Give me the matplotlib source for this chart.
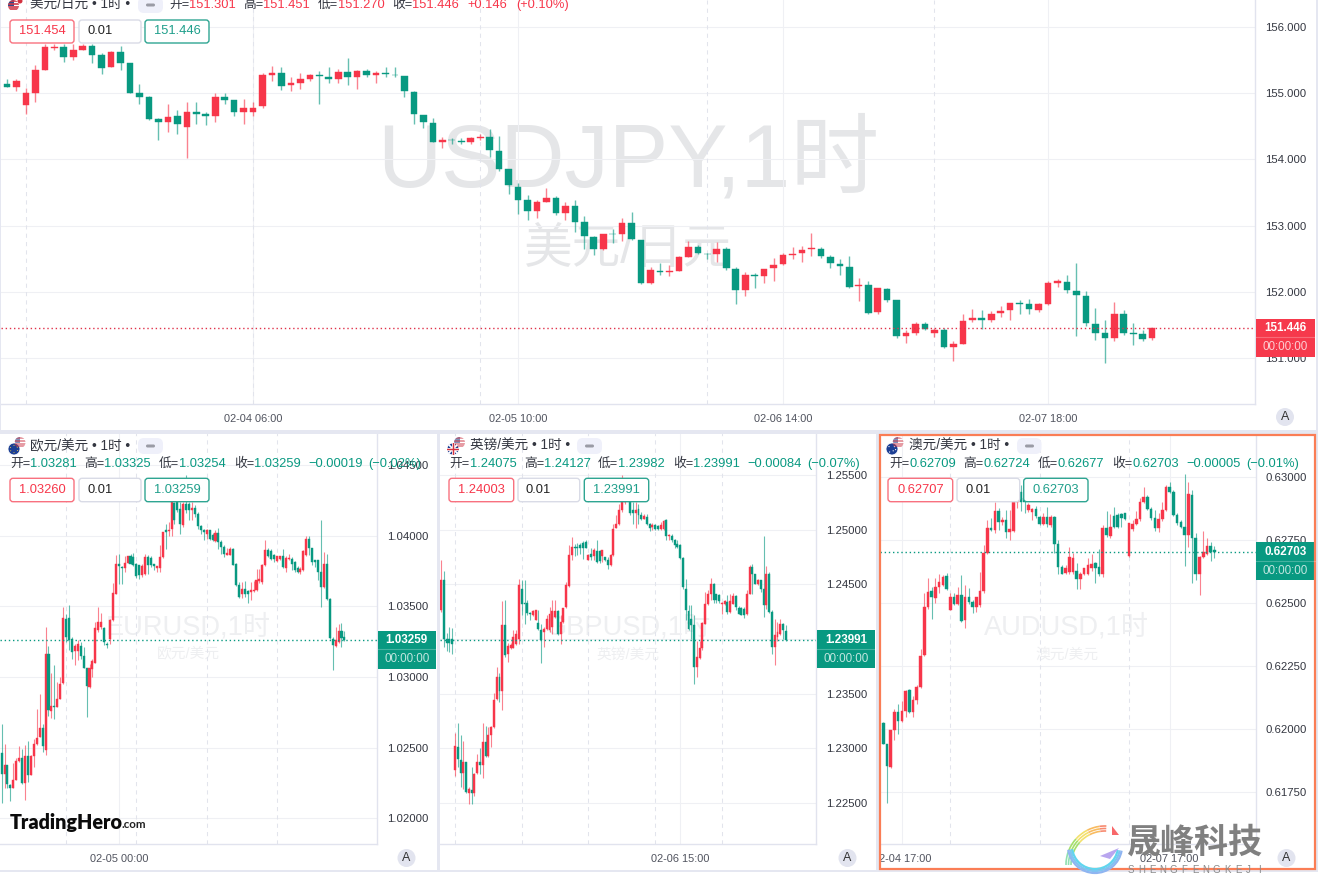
import numpy as np
import matplotlib
matplotlib.use('Agg')
import matplotlib.pyplot as plt
from matplotlib.patches import Rectangle, FancyBboxPatch, Circle, Arc, Polygon

plt.rcParams['font.family'] = ['Liberation Sans', 'Noto Sans CJK SC', 'DejaVu Sans']

W, H = 1318, 875
RED = '#f7364a'
GREEN = '#089981'
DARK = '#333640'

# ---- USD/JPY
jpy_open = [155.14,155.10,154.82,155.00,155.35,155.69,155.70,155.54,155.65,155.71,155.57,155.39,155.62,155.45,155.00,154.94,154.61,154.57,154.65,154.49,154.72,154.68,154.66,154.95,154.89,154.71,154.71,154.80,155.28,155.31,155.12,155.15,155.21,155.28,155.24,155.22,155.32,155.25,155.34,155.27,155.31,155.28,155.26,155.02,154.67,154.55,
    154.27,154.30,154.28,154.26,154.32,154.34,154.13,153.85,153.59,153.39,153.22,153.36,153.42,153.19,153.30,153.05,152.83,152.64,152.88,152.87,153.04,152.78,152.14,152.32,152.30,152.32,152.53,152.68,152.575,152.57,152.64,152.35,152.02,152.26,152.24,152.36,152.42,152.56,152.58,152.65,152.65,152.53,152.42,
    152.38,152.09,152.11,151.69,152.04,151.87,151.33,151.38,151.52,151.38,151.43,151.17,151.21,151.57,151.60,151.58,151.68,151.72,151.83,151.82,151.73,151.81,152.14,152.15,152.01,151.94,151.52,151.38,151.30,151.66,151.38,151.37,151.301]
jpy_high = [155.21,155.21,155.08,155.43,155.75,155.75,155.75,155.75,155.75,155.75,155.61,155.64,155.71,155.46,155.14,154.96,154.62,154.83,154.74,154.86,154.86,154.72,155.01,155.00,154.90,154.92,154.86,155.30,155.41,155.40,155.25,155.30,155.29,155.33,155.40,155.36,155.53,155.35,155.36,155.33,155.40,155.39,155.26,155.03,154.67,154.62,
    154.34,154.33,154.32,154.34,154.38,154.46,154.36,153.85,153.64,153.46,153.39,153.57,153.45,153.36,153.39,153.14,152.84,152.88,152.95,153.11,153.21,152.78,152.38,152.44,152.41,152.54,152.77,152.71,152.58,152.75,152.68,152.37,152.30,152.29,152.35,152.51,152.59,152.67,152.69,152.89,152.68,152.55,152.49,
    152.54,152.21,152.16,152.05,152.06,151.88,151.42,151.54,151.54,151.46,151.46,151.26,151.66,151.74,151.73,151.71,151.79,151.83,151.88,151.89,151.83,152.17,152.19,152.25,152.43,152.01,151.76,151.57,151.85,151.73,151.53,151.42,151.451]
jpy_low = [155.09,155.03,154.69,154.87,155.35,155.65,155.47,155.50,155.65,155.46,155.29,155.39,155.35,155.00,154.83,154.60,154.29,154.41,154.38,154.02,154.54,154.52,154.57,154.83,154.65,154.54,154.65,154.77,155.19,155.05,155.04,155.07,155.19,154.83,155.16,155.16,155.13,155.07,155.24,155.15,155.24,155.25,154.95,154.53,154.47,154.26,
    154.17,154.23,154.23,154.23,154.29,154.03,153.82,153.47,153.17,153.09,153.11,153.36,153.16,153.08,152.91,152.64,152.55,152.63,152.74,152.76,152.78,152.12,152.12,152.25,152.24,152.31,152.52,152.57,152.49,152.45,152.33,151.81,151.93,152.05,152.13,152.16,152.41,152.49,152.45,152.54,152.51,152.36,152.26,
    152.06,151.86,151.66,151.66,151.84,151.30,151.23,151.35,151.43,151.31,151.15,150.95,151.21,151.54,151.44,151.54,151.62,151.58,151.66,151.66,151.69,151.80,152.07,151.98,151.33,151.48,151.27,150.92,151.25,151.34,151.19,151.25,151.27]
jpy_close = [155.10,155.19,155.00,155.35,155.70,155.70,155.54,155.65,155.71,155.58,155.38,155.62,155.46,155.00,154.94,154.61,154.57,154.64,154.53,154.72,154.69,154.66,154.95,154.90,154.71,154.77,154.78,155.27,155.31,155.11,155.16,155.21,155.28,155.26,155.22,155.32,155.25,155.34,155.28,155.31,155.29,155.27,155.03,154.68,154.57,154.27,
    154.30,154.29,154.26,154.33,154.34,154.14,153.85,153.61,153.39,153.22,153.36,153.42,153.19,153.30,153.06,152.85,152.65,152.87,152.87,153.04,152.80,152.13,152.33,152.30,152.31,152.52,152.68,152.59,152.565,152.64,152.36,152.02,152.25,152.24,152.35,152.41,152.56,152.57,152.63,152.66,152.54,152.43,152.39,
    152.07,152.11,151.68,152.05,151.87,151.33,151.38,151.52,151.44,151.43,151.17,151.21,151.56,151.60,151.58,151.67,151.71,151.83,151.82,151.74,151.82,152.13,152.16,152.02,151.95,151.53,151.38,151.30,151.66,151.38,151.37,151.29,151.446]

# ---- EUR/USD
eur_open = [1.02464,1.02316,1.02375,1.02233,1.02212,1.02268,1.02403,1.02429,1.0225,1.02438,1.02308,1.02441,1.02523,1.02575,1.02639,1.02481,1.0316,1.02759,1.02792,1.02788,1.02847,1.02958,1.0341,1.0342,1.03265,1.03182,1.03182,1.03219,1.03149,1.03064,1.02929,1.03059,1.03099,1.0333,1.03353,1.03349,1.03236,1.03271,1.03401,1.03589,1.03802,1.0378,1.03773,1.03809,1.03854,1.03849,1.03802,1.0379,1.03719,1.03731,1.03849,1.03842,1.03797,1.03773,1.03773,1.03849,1.04038,1.04031,1.0405,1.04231,1.04235,1.04191,1.04073,1.04222,1.04222,1.04179,1.04198,1.04156,1.04066,1.04042,1.04014,1.04038,1.04002,1.0396,1.04019,1.03955,1.0392,1.03863,1.03863,1.03908,1.03802,1.03653,1.03589,1.03625,1.03608,1.03604,1.03606,1.03613,1.0368,1.0367,1.03795,1.03896,1.03891,1.03861,1.0382,1.03837,1.03854,1.03773,1.03835,1.03837,1.03814,1.03771,1.03743,1.03757,1.03861,1.03979,1.03915,1.0383,1.03825,1.03743,1.03637,1.03797,1.03549,1.03271,1.03217,1.03247,1.03323,1.03281]
eur_high = [1.0267,1.02523,1.02379,1.0224,1.02391,1.02429,1.02514,1.02493,1.02516,1.02545,1.02445,1.02563,1.02776,1.02877,1.0267,1.03354,1.03217,1.03024,1.03083,1.02965,1.03,1.03496,1.03448,1.03507,1.0328,1.03236,1.0326,1.03248,1.03212,1.03066,1.03094,1.0313,1.03389,1.03495,1.03452,1.03353,1.03247,1.03412,1.03665,1.03861,1.03873,1.03783,1.03854,1.03858,1.03868,1.03877,1.03809,1.03795,1.03802,1.03868,1.03861,1.03854,1.03802,1.03788,1.03932,1.04026,1.04085,1.04097,1.0435,1.04238,1.0424,1.04238,1.04238,1.04432,1.0424,1.04238,1.04215,1.04168,1.04073,1.0405,1.0405,1.04038,1.04019,1.04042,1.04054,1.03967,1.03932,1.03915,1.0392,1.03915,1.03806,1.03672,1.03672,1.03677,1.03613,1.03672,1.03677,1.03766,1.03766,1.03802,1.03967,1.03915,1.03908,1.03873,1.03854,1.03855,1.03908,1.03854,1.03868,1.03849,1.0382,1.03783,1.03778,1.03896,1.04,1.03995,1.03915,1.0383,1.03825,1.04109,1.03884,1.03868,1.03556,1.03283,1.03353,1.03377,1.03384,1.03325]
eur_low = [1.02108,1.02216,1.0221,1.02122,1.0221,1.02268,1.02401,1.02245,1.02132,1.02257,1.02304,1.02363,1.02519,1.02575,1.02469,1.02445,1.02722,1.02712,1.027,1.02788,1.0284,1.02953,1.0325,1.0319,1.0313,1.03083,1.0312,1.0313,1.0306,1.02717,1.02922,1.03,1.03095,1.0332,1.0334,1.03224,1.03208,1.03235,1.03396,1.03585,1.0366,1.03655,1.03743,1.03806,1.03797,1.03783,1.03703,1.03696,1.03707,1.03719,1.03731,1.03778,1.03759,1.03743,1.03743,1.03844,1.03908,1.04,1.04,1.04085,1.04167,1.04014,1.04061,1.0416,1.04109,1.04109,1.04132,1.0405,1.04014,1.03972,1.03979,1.03967,1.0396,1.03953,1.03908,1.03868,1.03849,1.03861,1.0386,1.03795,1.03646,1.03559,1.03559,1.03566,1.03526,1.03542,1.03601,1.03608,1.03665,1.0366,1.03788,1.03849,1.03825,1.03814,1.03814,1.0383,1.03773,1.03743,1.03825,1.03755,1.03743,1.03736,1.03731,1.0375,1.03854,1.03861,1.0379,1.03778,1.03684,1.03495,1.0363,1.03547,1.03271,1.03052,1.03212,1.0324,1.03212,1.03254]
eur_close = [1.02316,1.02379,1.0224,1.02216,1.02268,1.02403,1.02429,1.0225,1.02438,1.02308,1.02441,1.02523,1.02568,1.02639,1.02509,1.0316,1.02764,1.02795,1.02788,1.0284,1.02953,1.03418,1.0328,1.0326,1.03177,1.03219,1.03236,1.03149,1.03064,1.02934,1.03064,1.03113,1.03349,1.03389,1.03389,1.03247,1.03224,1.03405,1.03594,1.03802,1.03783,1.03773,1.03809,1.03854,1.03802,1.0379,1.03712,1.03719,1.03785,1.03849,1.0379,1.03795,1.03783,1.03783,1.03849,1.04026,1.04026,1.04042,1.04256,1.04113,1.0418,1.0408,1.04222,1.04184,1.04184,1.04198,1.04156,1.04066,1.04042,1.04026,1.04042,1.03979,1.03967,1.04021,1.03955,1.0392,1.03873,1.03877,1.03908,1.03795,1.03648,1.03566,1.03625,1.03589,1.03589,1.03618,1.03618,1.03684,1.03696,1.03795,1.03896,1.03854,1.03837,1.03837,1.03854,1.03854,1.03778,1.03844,1.03844,1.03802,1.03759,1.03743,1.03766,1.03891,1.03979,1.03915,1.03814,1.03814,1.03743,1.03637,1.03802,1.03554,1.03278,1.03224,1.03264,1.03323,1.03278,1.03259]

# ---- GBP/USD
gbp_open = [1.24262,1.24536,1.24,1.24003,1.24003,1.22799,1.23006,1.22893,1.22768,1.22869,1.22585,1.22619,1.22585,1.22768,1.22875,1.22844,1.23058,1.2293,1.23119,1.23189,1.23448,1.23647,1.23525,1.24125,1.2386,1.23915,1.23921,1.23957,1.24003,1.24454,1.24332,1.24329,1.24241,1.24216,1.24177,1.24146,1.24079,1.24064,1.24094,1.24079,1.24109,1.24201,1.24253,1.24048,1.24155,1.24292,1.24482,1.24765,1.24841,1.24841,1.24857,1.24878,1.24887,1.24725,1.24774,1.24756,1.24805,1.24805,1.24756,1.2475,1.24725,1.24674,1.24765,1.25018,1.25055,1.25177,1.25253,1.25345,1.25298,1.25177,1.25152,1.25186,1.25131,1.25101,1.25116,1.25049,1.25024,1.2504,1.25031,1.25009,1.25003,1.25085,1.24939,1.24939,1.24908,1.24872,1.24857,1.24744,1.2446,1.24256,1.24186,1.24125,1.23744,1.23824,1.23921,1.2414,1.24317,1.24414,1.245,1.24408,1.24399,1.24317,1.24323,1.24338,1.24247,1.24323,1.2439,1.24286,1.24286,1.24277,1.24231,1.24414,1.24658,1.24591,1.245,1.24536,1.2446,1.24308,1.24597,1.24247,1.23927,1.24018,1.24042,1.24134,1.24075]
gbp_high = [1.24719,1.24619,1.2405,1.24109,1.24103,1.23134,1.23229,1.23122,1.23067,1.22875,1.2264,1.22823,1.22768,1.22945,1.22997,1.23229,1.23204,1.23189,1.23204,1.23503,1.23744,1.23692,1.24347,1.24359,1.23967,1.23964,1.2408,1.24079,1.24552,1.24536,1.24536,1.24353,1.24247,1.24268,1.24268,1.24262,1.2414,1.24109,1.24216,1.24292,1.24359,1.24353,1.24262,1.24216,1.24283,1.24521,1.24857,1.24933,1.24872,1.24878,1.24878,1.24893,1.24908,1.24774,1.24835,1.24835,1.24902,1.24817,1.24817,1.2475,1.2475,1.2478,1.25055,1.25131,1.25238,1.255,1.25392,1.25345,1.25305,1.25253,1.25253,1.25238,1.25162,1.2514,1.2514,1.25061,1.25061,1.25055,1.2504,1.2507,1.25092,1.25098,1.24963,1.24957,1.24918,1.24908,1.24872,1.2475,1.24552,1.24308,1.24308,1.24216,1.2398,1.2398,1.24155,1.2443,1.24451,1.24561,1.24512,1.24414,1.24414,1.24338,1.24353,1.24399,1.24414,1.2442,1.24405,1.24299,1.24292,1.24292,1.24451,1.24674,1.24689,1.24597,1.24552,1.24543,1.24939,1.24665,1.24613,1.24262,1.24186,1.24155,1.24186,1.24146,1.24127]
gbp_low = [1.2425,1.2393,1.2389,1.2388,1.23866,1.22741,1.22823,1.2264,1.22625,1.22585,1.22488,1.22488,1.22558,1.22762,1.22762,1.22726,1.22921,1.22921,1.23006,1.23183,1.23439,1.23418,1.23351,1.2383,1.23793,1.2391,1.23915,1.2394,1.23957,1.24216,1.2414,1.24216,1.2417,1.24207,1.2417,1.24079,1.23784,1.2393,1.24079,1.24064,1.24048,1.24195,1.24033,1.23957,1.24146,1.24286,1.24476,1.2472,1.24756,1.24765,1.24774,1.24735,1.24829,1.2472,1.24725,1.2472,1.24695,1.24695,1.24704,1.24713,1.24637,1.24665,1.24756,1.25012,1.2504,1.25165,1.25238,1.2529,1.25131,1.25055,1.25018,1.25055,1.25092,1.25095,1.2504,1.24988,1.25,1.25,1.25,1.25,1.25,1.24902,1.24902,1.24887,1.24835,1.24835,1.24735,1.2446,1.2417,1.24079,1.24,1.23586,1.23653,1.23815,1.23897,1.24133,1.2431,1.24353,1.24329,1.24329,1.24332,1.24231,1.2431,1.24231,1.24241,1.24317,1.24262,1.24225,1.24216,1.24195,1.24216,1.24408,1.24414,1.245,1.24497,1.2443,1.24201,1.24277,1.2424,1.23866,1.23759,1.2398,1.24033,1.24003,1.23982]
gbp_close = [1.24536,1.2400,1.2396,1.2396,1.2395,1.23021,1.22899,1.22768,1.22875,1.22594,1.22625,1.22585,1.22762,1.22875,1.22844,1.23052,1.2293,1.23119,1.23195,1.23439,1.23647,1.23519,1.24125,1.23854,1.23936,1.23945,1.24018,1.24048,1.24491,1.24323,1.24323,1.24237,1.24225,1.24256,1.24262,1.24094,1.23987,1.24094,1.24186,1.24231,1.24253,1.24253,1.24048,1.24155,1.24283,1.24491,1.24765,1.24841,1.24835,1.24835,1.24835,1.24829,1.24835,1.24771,1.2475,1.24811,1.24704,1.24713,1.24811,1.2472,1.24674,1.24765,1.25009,1.25055,1.25177,1.25253,1.25345,1.25305,1.25152,1.25152,1.25183,1.25131,1.25101,1.25122,1.25049,1.25018,1.25046,1.25009,1.25009,1.2504,1.25079,1.24945,1.24948,1.24902,1.24857,1.24841,1.24744,1.24476,1.24262,1.24088,1.24125,1.23744,1.2383,1.23921,1.24146,1.24323,1.24414,1.245,1.24353,1.24353,1.24347,1.24329,1.24344,1.24247,1.24344,1.2439,1.24292,1.24231,1.24222,1.24216,1.24414,1.24658,1.24591,1.24506,1.24536,1.2446,1.24308,1.24597,1.24247,1.23928,1.24033,1.24064,1.2414,1.24079,1.23991]

# ---- AUD/USD
aud_open = [.62024,.6194,.61849,.61995,.62067,.6203,.6207,.62153,.62066,.62116,.62165,.62295,.62484,.62545,.6252,.62561,.62569,.62607,.62471,.62521,.62497,.6253,.62431,.62524,.62504,.62484,.62491,.62546,.62698,.62798,.62788,.62864,.62819,.62828,.62782,.62786,.62901,.6294,.62914,.62868,.62861,.6287,.62841,.62811,.62839,.62808,.62841,.62733,.62643,.62619,.62623,.62623,.62627,.62594,.62614,.62616,.62636,.62656,.6264,.62614,.62798,.62766,.62844,.62848,.62852,.62855,.62685,.62791,.62811,.62833,.62898,.62921,.62871,.62835,.62795,.62831,.62868,.6296,.6294,.62848,.62821,.62799,.62769,.62927,.62755,.62614,.6268,.62693,.62726,.62709]
aud_high = [.62026,.61942,.61997,.62079,.62097,.6211,.62156,.62159,.62132,.62175,.62317,.62537,.62597,.62563,.62597,.62613,.6261,.62619,.62537,.62537,.62563,.6261,.62571,.62557,.62511,.62524,.62623,.62729,.62828,.62835,.62901,.62874,.62839,.62868,.62868,.62937,.62945,.62967,.6294,.62897,.62874,.62884,.62844,.62855,.62881,.62848,.62844,.62749,.62649,.62649,.6272,.62696,.62656,.62623,.62639,.62676,.62693,.62663,.62712,.62808,.62864,.62852,.62878,.62855,.62855,.62857,.62817,.62828,.62865,.62914,.62958,.62927,.62878,.62868,.62855,.62901,.62967,.62978,.62947,.62855,.62828,.63009,.6298,.62947,.62775,.62685,.62784,.62755,.62742,.62724]
aud_low = [.61942,.61706,.61847,.61955,.61981,.62027,.62048,.62064,.62048,.62097,.62162,.6229,.62475,.62434,.625,.62537,.62565,.6255,.62471,.6249,.6249,.62424,.62402,.62497,.62458,.62464,.62484,.6254,.62695,.62785,.62775,.62788,.6281,.62758,.62749,.6278,.62875,.62864,.62855,.6286,.62828,.62835,.62808,.62808,.62799,.62802,.62698,.62616,.62613,.62616,.62616,.62616,.62553,.62553,.6261,.62609,.62625,.62577,.62607,.62603,.62762,.62755,.62795,.62795,.62799,.62829,.62682,.62785,.62808,.62825,.62895,.62868,.62828,.62786,.62782,.62825,.62865,.62935,.62845,.62808,.62795,.62647,.62722,.62579,.6259,.6253,.62677,.6269,.62667,.62677]
aud_close = [.61942,.61852,.61995,.62066,.6203,.6207,.62152,.62066,.62116,.62165,.62291,.62484,.62544,.62521,.62563,.62583,.62603,.62554,.62524,.62497,.6253,.62428,.62524,.62504,.62484,.62521,.62546,.62698,.62798,.62788,.62864,.62819,.62828,.62782,.62791,.62901,.6294,.62901,.62901,.62888,.6287,.62844,.62811,.62839,.62811,.62839,.62735,.62643,.62616,.62636,.6268,.62676,.62594,.62614,.62638,.62649,.62652,.62636,.62614,.62798,.62769,.62799,.62802,.62802,.62835,.62832,.62815,.62812,.62833,.62898,.62921,.62872,.62835,.62795,.62831,.62868,.6296,.62938,.62848,.62815,.62799,.62769,.62931,.62755,.62614,.62683,.62702,.62726,.62702,.62703]

# axis ticks and labels
jpy_yticks = [151, 152, 153, 154, 155, 156]
eur_yticks = [1.02, 1.025, 1.03, 1.035, 1.04, 1.045]
gbp_yticks = [1.225, 1.23, 1.235, 1.24, 1.245, 1.25, 1.255]
aud_yticks = [0.6175, 0.62, 0.6225, 0.625, 0.6275, 0.63]

jpy_time_idx = [26, 54, 82, 110]
jpy_time_lab = ['02-04 06:00', '02-05 10:00', '02-06 14:00', '02-07 18:00']
jpy_day_idx = [2, 26, 50, 74, 98]
eur_time_idx = [40]
eur_time_lab = ['02-05 00:00']
eur_day_idx = [22, 46, 70, 94]
gbp_time_idx = [86]
gbp_time_lab = ['02-06 15:00']
gbp_day_idx = [5, 29, 53, 77, 101]
aud_time_idx = [5, 77]
aud_time_lab = ['02-04 17:00', '02-07 17:00']
aud_day_idx = [18, 42, 66]

fig = plt.figure(figsize=(W / 100, H / 100), dpi=100, facecolor='white')

ov = fig.add_axes([0, 0, 1, 1], zorder=10)
ov.set_xlim(0, W)
ov.set_ylim(H, 0)
ov.axis('off')


def candles(ax, o, h, l, c, body, lw):
    o, h, l, c = map(np.array, (o, h, l, c))
    x = np.arange(len(o))
    col = np.where(c >= o, RED, GREEN)
    ax.vlines(x, l, h, colors=list(col), linewidth=lw, alpha=0.62, zorder=3)
    ax.bar(x, np.abs(c - o), bottom=np.minimum(o, c), width=body, color=list(col),
           edgecolor=list(col), linewidth=0.3, zorder=4)


def panel(box, x0, step, ylim, o, h, l, c, yticks, yfmt, day_idx, time_idx, time_lab, body, lw, dot):
    left, right, top, bottom = box
    ax = fig.add_axes([left / W, 1 - bottom / H, (right - left) / W, (bottom - top) / H], zorder=2)
    ax.set_xlim((left - x0) / step, (right - x0) / step)
    ax.set_ylim(*ylim)
    for s in ('top', 'left'):
        ax.spines[s].set_visible(False)
    for s in ('right', 'bottom'):
        ax.spines[s].set_color('#e1e3ee')
        ax.spines[s].set_linewidth(1)
    ax.yaxis.tick_right()
    ax.set_yticks(yticks)
    ax.set_yticklabels([yfmt % v for v in yticks], fontsize=8.2, color=DARK)
    ax.set_xticks(time_idx)
    ax.set_xticklabels(time_lab, fontsize=7.9, color='#50535e')
    ax.tick_params(length=0)
    ax.tick_params(axis='y', pad=7)
    ax.tick_params(axis='x', pad=7)
    for v in yticks:
        ax.axhline(v, color='#eff0f4', linewidth=0.75, zorder=1)
    for i in time_idx:
        ax.axvline(i, color='#eff0f4', linewidth=0.75, zorder=1)
    for i in day_idx:
        ax.axvline(i, color='#e2e4ec', linewidth=0.75, linestyle=(0, (4, 4)), zorder=1)
    candles(ax, o, h, l, c, body, lw)
    ax.axhline(c[-1], color=dot, linewidth=1, linestyle=(0, (1, 2)), zorder=5)
    return ax


def round_box(x0, y0, x1, y1, fc, ec='none', lw=1, r=3):
    ov.add_patch(FancyBboxPatch((x0, y0), x1 - x0, y1 - y0, boxstyle='round,pad=0,rounding_size=%g' % r,
                                fc=fc, ec=ec, lw=lw))


def tag(ax, price, x0, x1, col, txt):
    # price tag on the right axis, centred on the last close
    y = ax.transData.transform((0, price))[1]
    yc = H - y
    ov.add_patch(Rectangle((x0, yc - 9.5), x1 - x0, 38, fc=col, ec='none'))
    ov.plot([x0, x1], [yc + 9, yc + 9], color='white', alpha=0.25, lw=0.8)
    ov.text((x0 + x1) / 2, yc, txt, color='white', fontsize=8.4, fontweight='bold', ha='center', va='center')
    ov.text((x0 + x1) / 2, yc + 19, '00:00:00', color='white', alpha=0.75, fontsize=8.4, ha='center', va='center')


def header(title, tx, ty, ly, xs, vals, chg, col, pill):
    ov.text(tx, ty, title, fontsize=9.8, color=DARK, va='center')
    round_box(pill[0], pill[1], pill[2], pill[3], '#eff0fa', r=6)
    round_box(pill[0] + 8, (pill[1] + pill[3]) / 2 - 1.5, pill[0] + 17, (pill[1] + pill[3]) / 2 + 1.5, '#9a9ba5', r=1.5)
    for x, lab, v in zip(xs[:4], ['开=', '高=', '低=', '收='], vals):
        ov.text(x, ly, lab, fontsize=9.2, color=DARK, va='center')
        ov.text(x + 20, ly, v, fontsize=9.3, color=col, va='center')
    ov.text(xs[4], ly, chg[0], fontsize=9.3, color=col, va='center')
    ov.text(xs[5], ly, chg[1], fontsize=9.3, color=col, va='center')


def boxes(xs, y0, y1, bid, ask):
    round_box(xs[0], y0, xs[1], y1, 'white', '#f8717f', 1)
    round_box(xs[2], y0, xs[3], y1, 'white', '#d9dbe6', 1)
    round_box(xs[4], y0, xs[5], y1, 'white', '#2fa592', 1)
    ym = (y0 + y1) / 2
    ov.text((xs[0] + xs[1]) / 2, ym, bid, fontsize=9.3, color=RED, ha='center', va='center')
    ov.text(xs[2] + 8, ym, '0.01', fontsize=9.3, color='#222', va='center')
    ov.text((xs[4] + xs[5]) / 2, ym, ask, fontsize=9.3, color='#1f9f8b', ha='center', va='center')


def water(ax, cx, y1, s1, f1, y2, s2, f2, col):
    ax.text(cx, y1, s1, transform=ov.transData, fontsize=f1, color=col, ha='center', va='center', zorder=0.5, clip_on=True)
    ax.text(cx, y2, s2, transform=ov.transData, fontsize=f2, color=col, ha='center', va='center', zorder=0.5, clip_on=True)


def us_flag(cx, cy, r, alpha=1.0):
    c = Circle((cx, cy), r, fc='white', ec='none', alpha=alpha)
    ov.add_patch(c)
    for dy in (-0.8, -0.3, 0.2, 0.7):
        a, = ov.plot([cx - r, cx + r], [cy + dy * r, cy + dy * r], color='#cf3b4a', lw=1.2, alpha=alpha)
        a.set_clip_path(c)
    b = Rectangle((cx - r, cy - r), r, r, fc='#2f4a8c', ec='none', alpha=alpha)
    ov.add_patch(b)
    b.set_clip_path(c)


def disc_flag(cx, cy, r, kind):
    c = Circle((cx, cy), r, fc='#1c3f94', ec='white', lw=0.6)
    ov.add_patch(c)
    if kind == 'eu':
        for dx, dy in [(0, -.6), (.55, -.3), (.6, .25), (0, .6), (-.55, .3), (-.6, -.25)]:
            ov.add_patch(Circle((cx + dx * r, cy + dy * r), 0.5, fc='#f5d33c', ec='none'))
    if kind == 'uk':
        for seg, col, w in [(((-1, -1), (1, 1)), 'white', 1.8), (((-1, 1), (1, -1)), 'white', 1.8),
                            (((-1, 0), (1, 0)), 'white', 3), (((0, -1), (0, 1)), 'white', 3),
                            (((-1, 0), (1, 0)), '#d3313f', 1.5), (((0, -1), (0, 1)), '#d3313f', 1.5)]:
            a, = ov.plot([cx + seg[0][0] * r, cx + seg[1][0] * r], [cy + seg[0][1] * r, cy + seg[1][1] * r], color=col, lw=w * 0.7)
            a.set_clip_path(c)
    if kind == 'au':
        for dx, dy in [(.4, -.4), (.6, .1), (.2, .3), (-.4, .5), (-.5, -.4)]:
            ov.add_patch(Circle((cx + dx * r, cy + dy * r), 0.6, fc='white', ec='none'))


# page separators, the white patch hides the cut-off first digit of the AUD time label
ov.add_patch(Rectangle((868, 846), 7.5, 23, fc='white', ec='none'))
for x0, y0, x1, y1 in [(0, 430, W, 433.5), (436.5, 433, 440, 870), (875.5, 433, 880, 870), (1315.5, 0, W, 870), (0, 870, W, 871.5), (0, 0, 1, 430)]:
    ov.add_patch(Rectangle((x0, y0), x1 - x0, y1 - y0, fc='#e5e7f1', ec='none'))

# panels
ax_jpy = panel((1, 1255, 0, 404), 7, 9.464, (150.305, 156.408), jpy_open, jpy_high, jpy_low, jpy_close,
               jpy_yticks, '%.3f', jpy_day_idx, jpy_time_idx, jpy_time_lab, 0.7, 1.0, '#e0324a')
ax_eur = panel((0, 377, 433.5, 844), 1.6, 2.93, (1.01817, 1.04723), eur_open, eur_high, eur_low, eur_close,
               eur_yticks, '%.5f', eur_day_idx, eur_time_idx, eur_time_lab, 0.7, 0.8, GREEN)
ax_gbp = panel((440, 816, 433.5, 844), 441.1, 2.78, (1.22122, 1.25881), gbp_open, gbp_high, gbp_low, gbp_close,
               gbp_yticks, '%.5f', gbp_day_idx, gbp_time_idx, gbp_time_lab, 0.7, 0.8, GREEN)
ax_aud = panel((880, 1255.5, 433.5, 844), 883.3, 3.72, (0.61544, 0.63171), aud_open, aud_high, aud_low, aud_close,
               aud_yticks, '%.5f', aud_day_idx, aud_time_idx, aud_time_lab, 0.7, 0.8, GREEN)

water(ax_jpy, 628, 163, 'USDJPY,1时', 64, 250, '美元/日元', 35, '#e5e6e8')
water(ax_eur, 188.5, 627, 'EURUSD,1时', 19.6, 654, '欧元/美元', 10.6, '#eeeff1')
water(ax_gbp, 628, 627, 'GBPUSD,1时', 19.6, 655, '英镑/美元', 10.6, '#eeeff1')
water(ax_aud, 1067, 627, 'AUDUSD,1时', 19.6, 655, '澳元/美元', 10.6, '#eeeff1')

# price tags
tag(ax_jpy, jpy_close[-1], 1256, 1315, '#f6394c', '151.446')
tag(ax_eur, eur_close[-1], 377.5, 436, GREEN, '1.03259')
tag(ax_gbp, gbp_close[-1], 816.5, 875, GREEN, '1.23991')
tag(ax_aud, aud_close[-1], 1256, 1315, GREEN, '0.62703')

# legends
header('美元/日元 • 1时 •', 30, 5, 5, [169, 243, 318, 392, 467, 516],
       ['151.301', '151.451', '151.270', '151.446'], ('+0.146', '(+0.10%)'), RED, (138, -3, 163, 13))
boxes((10, 74, 79, 141, 145, 209), 20, 43, '151.454', '151.446')
us_flag(13.5, 5.5, 5.5)
ov.add_patch(Circle((20, 1), 2.5, fc='#d3313f', ec='none'))

header('欧元/美元 • 1时 •', 30, 446, 464.3, [10, 84.3, 159, 234, 308.3, 368],
       ['1.03281', '1.03325', '1.03254', '1.03259'], ('−0.00019', '(−0.02%)'), GREEN, (138, 438, 163, 454))
boxes((10, 74, 79, 141, 145, 209), 478.3, 501.7, '1.03260', '1.03259')
us_flag(20, 442.5, 5.5, 0.6)
disc_flag(14, 449, 6, 'eu')

header('英镑/美元 • 1时 •', 469.7, 446, 464.3, [449.7, 524, 598, 673, 747.3, 807.3],
       ['1.24075', '1.24127', '1.23982', '1.23991'], ('−0.00084', '(−0.07%)'), GREEN, (577, 438, 602, 454))
boxes((449, 513.7, 518, 579.7, 584.3, 648.7), 478.3, 501.7, '1.24003', '1.23991')
us_flag(459.5, 442.5, 5.5, 0.6)
disc_flag(453, 449, 6, 'uk')

header('澳元/美元 • 1时 •', 908.7, 446, 464.3, [889, 963.3, 1038, 1112.3, 1186.3, 1246.3],
       ['0.62709', '0.62724', '0.62677', '0.62703'], ('−0.00005', '(−0.01%)'), GREEN, (1017, 438, 1041.5, 454))
boxes((888, 952.7, 957, 1019.7, 1023.7, 1088), 478.3, 501.7, '0.62707', '0.62703')
us_flag(898, 442.5, 5.5, 0.6)
disc_flag(892, 449, 6, 'au')

# scale buttons
for cx, cy in [(1285, 417), (406.5, 858), (847.5, 858), (1286.5, 858)]:
    ov.add_patch(Circle((cx, cy), 9, fc='#e2e4ef', ec='none'))
    ov.text(cx, cy, 'A', fontsize=9, color='#333', ha='center', va='center')

# orange frame on the active chart
ov.add_patch(Rectangle((880, 434.5), 435, 434.5, fc='none', ec='#fa7d55', lw=1.6))

# TradingHero mark
ov.text(10, 823, 'TradingHero', fontsize=14.2, fontweight='heavy', family=['Lato', 'DejaVu Sans'], color='#0b0b0b', va='center')
ov.text(121, 825, '.com', fontsize=8.3, fontweight='bold', family=['Lato', 'DejaVu Sans'], color='#222', va='center')

# site logo lower right
for t1, t2, col in [(180, 202, '#8fe0b0'), (202, 222, '#a5e06a'), (222, 243, '#f3e06c'), (243, 262, '#f8bb60'), (262, 272, '#f78a70')]:
    for r in (68, 73, 78):
        ov.add_patch(Arc((1105, 865), r, r, theta1=t1, theta2=t2, color=col, lw=1.2))
ov.add_patch(Polygon([(1112, 826), (1119, 835), (1112, 835)], fc='#f8686a', ec='none'))
for r, col in [(46, '#5fd6ee'), (50, '#7cc7f2'), (54, '#8fb5f1')]:
    ov.add_patch(Arc((1095, 846), r, r, theta1=10, theta2=172, color=col, lw=1.6))
ov.add_patch(Polygon([(1100, 856), (1119, 848), (1110, 859)], fc='#b9a6ef', ec='none'))
ov.text(1195, 843, '晟峰科技', fontsize=24.5, fontweight='bold', color='#808080', ha='center', va='center')
for i, ch in enumerate('SHENGFENGKEJI'):
    ov.text(1131 + i * 10.7, 870, ch, fontsize=7, color='#8a8a8a', ha='center', va='center')

fig.savefig('out.png', dpi=100)
